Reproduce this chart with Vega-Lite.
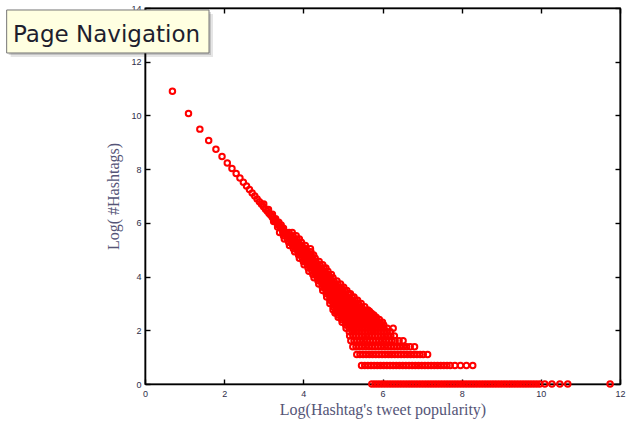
{
"$schema": "https://vega.github.io/schema/vega-lite/v6.json",
"width": 475, "height": 376,
"autosize": {"type": "none"},
"padding": {"left": 145, "top": 8, "right": 8, "bottom": 44},
"config": {
 "view": {"stroke": "#000", "strokeWidth": 1.3},
 "axis": {"domainColor": "#000", "domainWidth": 1.6, "tickColor": "#000", "tickWidth": 1.4, "grid": false,
  "labelFont": "Liberation Sans", "labelFontSize": 9, "labelColor": "#2e2e4a", "labelFlush": false, "labelOverlap": false,
  "titleFont": "Liberation Serif", "titleFontSize": 16, "titleFontWeight": "normal", "titleColor": "#555577"}
},
"datasets": {
"pts": [
{"x":0.693,"y":10.9},{"x":1.099,"y":10.07},{"x":1.386,"y":9.49},{"x":1.609,"y":9.07},{"x":1.792,"y":8.74},{"x":1.946,"y":8.47},{"x":2.079,"y":8.23},{"x":2.197,"y":8.02},{"x":2.303,"y":7.84},{"x":2.398,"y":7.67},{"x":2.485,"y":7.51},{"x":2.565,"y":7.37},{"x":2.639,"y":7.24},{"x":2.708,"y":7.11},{"x":2.773,"y":7.0},{"x":2.833,"y":6.89},{"x":2.89,"y":6.79},{"x":2.944,"y":6.69},{"x":2.996,"y":6.6},{"x":3.045,"y":6.51},{"x":3.091,"y":6.43},{"x":3.135,"y":6.35},{"x":3.178,"y":6.28},{"x":3.219,"y":6.2},{"x":3.258,"y":6.13},{"x":3.296,"y":6.07},{"x":3.332,"y":6.0},{"x":3.367,"y":5.94},{"x":3.401,"y":5.88},{"x":3.434,"y":5.8},{"x":3.466,"y":5.76},{"x":3.497,"y":5.7},{"x":3.526,"y":5.66},
{"x":3.0,"y":6.7},{"x":3.12,"y":6.5},{"x":3.22,"y":6.32},{"x":3.3,"y":6.15},{"x":3.38,"y":6.02},{"x":3.44,"y":5.92},{"x":3.35,"y":5.85},{"x":3.25,"y":6.05},{"x":3.5,"y":5.8},
{"x":3.40,"y":5.64},{"x":3.48,"y":5.64},{"x":3.56,"y":5.64},{"x":3.64,"y":5.64},{"x":3.72,"y":5.64},
{"x":3.50,"y":5.52},{"x":3.58,"y":5.52},{"x":3.66,"y":5.52},{"x":3.74,"y":5.52},{"x":3.82,"y":5.52},
{"x":3.52,"y":5.40},{"x":3.60,"y":5.40},{"x":3.68,"y":5.40},{"x":3.76,"y":5.40},{"x":3.84,"y":5.40},{"x":3.90,"y":5.40},
{"x":3.63,"y":5.28},{"x":3.71,"y":5.28},{"x":3.79,"y":5.28},{"x":3.87,"y":5.28},{"x":3.95,"y":5.28},
{"x":3.65,"y":5.16},{"x":3.73,"y":5.16},{"x":3.81,"y":5.16},{"x":3.89,"y":5.16},{"x":3.97,"y":5.16},{"x":4.05,"y":5.16},
{"x":3.75,"y":5.04},{"x":3.83,"y":5.04},{"x":3.91,"y":5.04},{"x":3.99,"y":5.04},{"x":4.07,"y":5.04},{"x":4.18,"y":5.04},
{"x":3.78,"y":4.92},{"x":3.86,"y":4.92},{"x":3.94,"y":4.92},{"x":4.02,"y":4.92},{"x":4.10,"y":4.92},{"x":4.19,"y":4.92},
{"x":3.88,"y":4.80},{"x":3.96,"y":4.80},{"x":4.04,"y":4.80},{"x":4.12,"y":4.80},{"x":4.20,"y":4.80},{"x":4.26,"y":4.80},
{"x":3.90,"y":4.68},{"x":3.98,"y":4.68},{"x":4.06,"y":4.68},{"x":4.14,"y":4.68},{"x":4.22,"y":4.68},{"x":4.30,"y":4.68},
{"x":4.00,"y":4.56},{"x":4.08,"y":4.56},{"x":4.16,"y":4.56},{"x":4.24,"y":4.56},{"x":4.32,"y":4.56},{"x":4.40,"y":4.56},
{"x":4.02,"y":4.44},{"x":4.10,"y":4.44},{"x":4.18,"y":4.44},{"x":4.26,"y":4.44},{"x":4.34,"y":4.44},{"x":4.42,"y":4.44},{"x":4.49,"y":4.44},
{"x":4.12,"y":4.32},{"x":4.20,"y":4.32},{"x":4.28,"y":4.32},{"x":4.36,"y":4.32},{"x":4.44,"y":4.32},{"x":4.52,"y":4.32},{"x":4.57,"y":4.32},
{"x":4.14,"y":4.20},{"x":4.22,"y":4.20},{"x":4.30,"y":4.20},{"x":4.38,"y":4.20},{"x":4.46,"y":4.20},{"x":4.54,"y":4.20},{"x":4.62,"y":4.20},
{"x":4.24,"y":4.08},{"x":4.32,"y":4.08},{"x":4.40,"y":4.08},{"x":4.48,"y":4.08},{"x":4.56,"y":4.08},{"x":4.64,"y":4.08},{"x":4.71,"y":4.08},
{"x":4.27,"y":3.96},{"x":4.35,"y":3.96},{"x":4.43,"y":3.96},{"x":4.51,"y":3.96},{"x":4.59,"y":3.96},{"x":4.67,"y":3.96},{"x":4.75,"y":3.96},
{"x":4.37,"y":3.84},{"x":4.45,"y":3.84},{"x":4.53,"y":3.84},{"x":4.61,"y":3.84},{"x":4.69,"y":3.84},{"x":4.77,"y":3.84},{"x":4.85,"y":3.84},
{"x":4.39,"y":3.72},{"x":4.47,"y":3.72},{"x":4.55,"y":3.72},{"x":4.63,"y":3.72},{"x":4.71,"y":3.72},{"x":4.79,"y":3.72},{"x":4.87,"y":3.72},{"x":4.94,"y":3.72},
{"x":4.48,"y":3.60},{"x":4.56,"y":3.60},{"x":4.64,"y":3.60},{"x":4.72,"y":3.60},{"x":4.80,"y":3.60},{"x":4.88,"y":3.60},{"x":4.96,"y":3.60},{"x":5.02,"y":3.60},
{"x":4.49,"y":3.48},{"x":4.57,"y":3.48},{"x":4.65,"y":3.48},{"x":4.73,"y":3.48},{"x":4.81,"y":3.48},{"x":4.89,"y":3.48},{"x":4.97,"y":3.48},{"x":5.05,"y":3.48},{"x":5.10,"y":3.48},
{"x":4.58,"y":3.36},{"x":4.66,"y":3.36},{"x":4.74,"y":3.36},{"x":4.82,"y":3.36},{"x":4.90,"y":3.36},{"x":4.98,"y":3.36},{"x":5.06,"y":3.36},{"x":5.14,"y":3.36},{"x":5.19,"y":3.36},
{"x":4.59,"y":3.24},{"x":4.67,"y":3.24},{"x":4.75,"y":3.24},{"x":4.83,"y":3.24},{"x":4.91,"y":3.24},{"x":4.99,"y":3.24},{"x":5.07,"y":3.24},{"x":5.15,"y":3.24},{"x":5.23,"y":3.24},{"x":5.28,"y":3.24},
{"x":4.67,"y":3.12},{"x":4.75,"y":3.12},{"x":4.83,"y":3.12},{"x":4.91,"y":3.12},{"x":4.99,"y":3.12},{"x":5.07,"y":3.12},{"x":5.15,"y":3.12},{"x":5.23,"y":3.12},{"x":5.31,"y":3.12},{"x":5.37,"y":3.12},
{"x":4.67,"y":3.00},{"x":4.75,"y":3.00},{"x":4.83,"y":3.00},{"x":4.91,"y":3.00},{"x":4.99,"y":3.00},{"x":5.07,"y":3.00},{"x":5.15,"y":3.00},{"x":5.23,"y":3.00},{"x":5.31,"y":3.00},{"x":5.39,"y":3.00},{"x":5.46,"y":3.00},
{"x":4.75,"y":2.88},{"x":4.83,"y":2.88},{"x":4.91,"y":2.88},{"x":4.99,"y":2.88},{"x":5.07,"y":2.88},{"x":5.15,"y":2.88},{"x":5.23,"y":2.88},{"x":5.31,"y":2.88},{"x":5.39,"y":2.88},{"x":5.47,"y":2.88},{"x":5.55,"y":2.88},
{"x":4.75,"y":2.76},{"x":4.83,"y":2.76},{"x":4.91,"y":2.76},{"x":4.99,"y":2.76},{"x":5.07,"y":2.76},{"x":5.15,"y":2.76},{"x":5.23,"y":2.76},{"x":5.31,"y":2.76},{"x":5.39,"y":2.76},{"x":5.47,"y":2.76},{"x":5.55,"y":2.76},{"x":5.63,"y":2.76},
{"x":4.81,"y":2.708},{"x":4.89,"y":2.708},{"x":4.97,"y":2.708},{"x":5.05,"y":2.708},{"x":5.13,"y":2.708},{"x":5.21,"y":2.708},{"x":5.29,"y":2.708},{"x":5.37,"y":2.708},{"x":5.45,"y":2.708},{"x":5.53,"y":2.708},{"x":5.61,"y":2.708},{"x":5.67,"y":2.708},
{"x":4.80,"y":2.639},{"x":4.88,"y":2.639},{"x":4.96,"y":2.639},{"x":5.04,"y":2.639},{"x":5.12,"y":2.639},{"x":5.20,"y":2.639},{"x":5.28,"y":2.639},{"x":5.36,"y":2.639},{"x":5.44,"y":2.639},{"x":5.52,"y":2.639},{"x":5.60,"y":2.639},{"x":5.68,"y":2.639},{"x":5.72,"y":2.639},
{"x":4.88,"y":2.565},{"x":4.96,"y":2.565},{"x":5.04,"y":2.565},{"x":5.12,"y":2.565},{"x":5.20,"y":2.565},{"x":5.28,"y":2.565},{"x":5.36,"y":2.565},{"x":5.44,"y":2.565},{"x":5.52,"y":2.565},{"x":5.60,"y":2.565},{"x":5.68,"y":2.565},{"x":5.78,"y":2.565},
{"x":4.88,"y":2.485},{"x":4.96,"y":2.485},{"x":5.04,"y":2.485},{"x":5.12,"y":2.485},{"x":5.20,"y":2.485},{"x":5.28,"y":2.485},{"x":5.36,"y":2.485},{"x":5.44,"y":2.485},{"x":5.52,"y":2.485},{"x":5.60,"y":2.485},{"x":5.68,"y":2.485},{"x":5.76,"y":2.485},{"x":5.84,"y":2.485},
{"x":4.97,"y":2.398},{"x":5.05,"y":2.398},{"x":5.13,"y":2.398},{"x":5.21,"y":2.398},{"x":5.29,"y":2.398},{"x":5.37,"y":2.398},{"x":5.45,"y":2.398},{"x":5.53,"y":2.398},{"x":5.61,"y":2.398},{"x":5.69,"y":2.398},{"x":5.77,"y":2.398},{"x":5.85,"y":2.398},{"x":5.92,"y":2.398},
{"x":4.98,"y":2.303},{"x":5.06,"y":2.303},{"x":5.14,"y":2.303},{"x":5.22,"y":2.303},{"x":5.30,"y":2.303},{"x":5.38,"y":2.303},{"x":5.46,"y":2.303},{"x":5.54,"y":2.303},{"x":5.62,"y":2.303},{"x":5.70,"y":2.303},{"x":5.78,"y":2.303},{"x":5.86,"y":2.303},{"x":5.94,"y":2.303},{"x":6.00,"y":2.303},
{"x":5.07,"y":2.197},{"x":5.15,"y":2.197},{"x":5.23,"y":2.197},{"x":5.31,"y":2.197},{"x":5.39,"y":2.197},{"x":5.47,"y":2.197},{"x":5.55,"y":2.197},{"x":5.63,"y":2.197},{"x":5.71,"y":2.197},{"x":5.79,"y":2.197},{"x":5.87,"y":2.197},{"x":5.95,"y":2.197},{"x":6.03,"y":2.197},
{"x":5.08,"y":2.079},{"x":5.16,"y":2.079},{"x":5.24,"y":2.079},{"x":5.32,"y":2.079},{"x":5.40,"y":2.079},{"x":5.48,"y":2.079},{"x":5.56,"y":2.079},{"x":5.64,"y":2.079},{"x":5.72,"y":2.079},{"x":5.80,"y":2.079},{"x":5.88,"y":2.079},{"x":5.96,"y":2.079},{"x":6.04,"y":2.079},{"x":6.12,"y":2.079},{"x":6.27,"y":2.079},
{"x":5.16,"y":1.946},{"x":5.24,"y":1.946},{"x":5.32,"y":1.946},{"x":5.40,"y":1.946},{"x":5.48,"y":1.946},{"x":5.56,"y":1.946},{"x":5.64,"y":1.946},{"x":5.72,"y":1.946},{"x":5.80,"y":1.946},{"x":5.88,"y":1.946},{"x":5.96,"y":1.946},{"x":6.04,"y":1.946},{"x":6.12,"y":1.946},{"x":6.20,"y":1.946},
{"x":5.17,"y":1.792},{"x":5.25,"y":1.792},{"x":5.33,"y":1.792},{"x":5.41,"y":1.792},{"x":5.49,"y":1.792},{"x":5.57,"y":1.792},{"x":5.65,"y":1.792},{"x":5.73,"y":1.792},{"x":5.81,"y":1.792},{"x":5.89,"y":1.792},{"x":5.97,"y":1.792},{"x":6.05,"y":1.792},{"x":6.13,"y":1.792},{"x":6.21,"y":1.792},{"x":6.30,"y":1.792},
{"x":5.20,"y":1.609},{"x":5.28,"y":1.609},{"x":5.36,"y":1.609},{"x":5.44,"y":1.609},{"x":5.52,"y":1.609},{"x":5.60,"y":1.609},{"x":5.68,"y":1.609},{"x":5.76,"y":1.609},{"x":5.84,"y":1.609},{"x":5.92,"y":1.609},{"x":6.00,"y":1.609},{"x":6.08,"y":1.609},{"x":6.16,"y":1.609},{"x":6.24,"y":1.609},{"x":6.32,"y":1.609},{"x":6.42,"y":1.609},{"x":6.52,"y":1.609},
{"x":5.25,"y":1.386},{"x":5.33,"y":1.386},{"x":5.41,"y":1.386},{"x":5.49,"y":1.386},{"x":5.57,"y":1.386},{"x":5.65,"y":1.386},{"x":5.73,"y":1.386},{"x":5.81,"y":1.386},{"x":5.89,"y":1.386},{"x":5.97,"y":1.386},{"x":6.05,"y":1.386},{"x":6.13,"y":1.386},{"x":6.21,"y":1.386},{"x":6.29,"y":1.386},{"x":6.37,"y":1.386},{"x":6.45,"y":1.386},{"x":6.53,"y":1.386},{"x":6.61,"y":1.386},{"x":6.70,"y":1.386},{"x":6.81,"y":1.386},
{"x":5.35,"y":1.099},{"x":5.43,"y":1.099},{"x":5.51,"y":1.099},{"x":5.59,"y":1.099},{"x":5.67,"y":1.099},{"x":5.75,"y":1.099},{"x":5.83,"y":1.099},{"x":5.91,"y":1.099},{"x":5.99,"y":1.099},{"x":6.07,"y":1.099},{"x":6.15,"y":1.099},{"x":6.23,"y":1.099},{"x":6.31,"y":1.099},{"x":6.39,"y":1.099},{"x":6.47,"y":1.099},{"x":6.55,"y":1.099},{"x":6.63,"y":1.099},{"x":6.71,"y":1.099},{"x":6.79,"y":1.099},{"x":6.87,"y":1.099},{"x":6.95,"y":1.099},{"x":7.03,"y":1.099},{"x":7.14,"y":1.099},
{"x":5.47,"y":0.693},{"x":5.55,"y":0.693},{"x":5.63,"y":0.693},{"x":5.71,"y":0.693},{"x":5.79,"y":0.693},{"x":5.87,"y":0.693},{"x":5.95,"y":0.693},{"x":6.03,"y":0.693},{"x":6.11,"y":0.693},{"x":6.19,"y":0.693},{"x":6.27,"y":0.693},{"x":6.35,"y":0.693},{"x":6.43,"y":0.693},{"x":6.51,"y":0.693},{"x":6.59,"y":0.693},{"x":6.67,"y":0.693},{"x":6.75,"y":0.693},{"x":6.83,"y":0.693},{"x":6.91,"y":0.693},{"x":6.99,"y":0.693},{"x":7.07,"y":0.693},{"x":7.15,"y":0.693},{"x":7.23,"y":0.693},{"x":7.31,"y":0.693},{"x":7.39,"y":0.693},{"x":7.47,"y":0.693},{"x":7.55,"y":0.693},{"x":7.63,"y":0.693},{"x":7.71,"y":0.693},{"x":7.83,"y":0.693},{"x":7.97,"y":0.693},{"x":8.12,"y":0.693},{"x":8.28,"y":0.693},
{"x":5.73,"y":0},{"x":5.81,"y":0},{"x":5.89,"y":0},{"x":5.97,"y":0},{"x":6.05,"y":0},{"x":6.13,"y":0},{"x":6.21,"y":0},{"x":6.29,"y":0},{"x":6.37,"y":0},{"x":6.45,"y":0},{"x":6.53,"y":0},{"x":6.61,"y":0},{"x":6.69,"y":0},{"x":6.77,"y":0},{"x":6.85,"y":0},{"x":6.93,"y":0},{"x":7.01,"y":0},{"x":7.09,"y":0},{"x":7.17,"y":0},{"x":7.25,"y":0},{"x":7.33,"y":0},{"x":7.41,"y":0},{"x":7.49,"y":0},{"x":7.57,"y":0},{"x":7.65,"y":0},{"x":7.73,"y":0},{"x":7.81,"y":0},{"x":7.89,"y":0},{"x":7.97,"y":0},{"x":8.05,"y":0},{"x":8.13,"y":0},{"x":8.21,"y":0},{"x":8.29,"y":0},{"x":8.37,"y":0},{"x":8.45,"y":0},{"x":8.53,"y":0},{"x":8.61,"y":0},{"x":8.69,"y":0},{"x":8.77,"y":0},{"x":8.85,"y":0},{"x":8.93,"y":0},{"x":9.01,"y":0},{"x":9.09,"y":0},{"x":9.17,"y":0},{"x":9.25,"y":0},{"x":9.33,"y":0},{"x":9.41,"y":0},{"x":9.49,"y":0},{"x":9.57,"y":0},{"x":9.65,"y":0},{"x":9.73,"y":0},{"x":9.81,"y":0},{"x":9.89,"y":0},{"x":9.97,"y":0},{"x":10.1,"y":0},{"x":10.28,"y":0},{"x":10.48,"y":0},{"x":10.68,"y":0},{"x":11.75,"y":0}
],
"note": [{"x0": -3.495, "x1": 1.617, "y0": 13.926, "y1": 12.325, "tx": -3.335, "ty": 12.734, "label": "Page Navigation"}]
},
"layer": [
 {"data": {"name": "pts"},
  "mark": {"type": "point", "shape": "circle", "filled": false, "stroke": "#ff0000", "strokeWidth": 2, "size": 30, "opacity": 1},
  "encoding": {
   "x": {"field": "x", "type": "quantitative", "scale": {"domain": [0, 12], "nice": false, "zero": false},
     "axis": {"orient": "bottom", "values": [0, 2, 4, 6, 8, 10, 12], "tickSize": -5, "labelPadding": 10, "title": "Log(Hashtag's tweet popularity)", "titlePadding": 3}},
   "y": {"field": "y", "type": "quantitative", "scale": {"domain": [0, 14], "nice": false, "zero": false},
     "axis": {"orient": "left", "values": [0, 2, 4, 6, 8, 10, 12, 14], "tickSize": -5, "labelPadding": 9, "title": "Log( #Hashtags)", "titlePadding": 9}}
  }},
 {"data": {"name": "pts"},
  "mark": {"type": "point", "opacity": 0},
  "encoding": {
   "x": {"field": "x", "type": "quantitative", "axis": {"orient": "top", "values": [0, 2, 4, 6, 8, 10, 12], "tickSize": -5, "labels": false, "title": null}},
   "y": {"field": "y", "type": "quantitative", "axis": {"orient": "right", "values": [0, 2, 4, 6, 8, 10, 12, 14], "tickSize": -5, "labels": false, "title": null}}
  }},
 {"data": {"name": "note"},
  "mark": {"type": "rect", "fill": "#000", "opacity": 0.1, "xOffset": 4, "x2Offset": 4, "yOffset": 4, "y2Offset": 4},
  "encoding": {"x": {"field": "x0", "type": "quantitative", "axis": null}, "x2": {"field": "x1"}, "y": {"field": "y0", "type": "quantitative", "axis": null}, "y2": {"field": "y1"}}},
 {"data": {"name": "note"},
  "mark": {"type": "rect", "fill": "#000", "opacity": 0.15, "xOffset": 2, "x2Offset": 2, "yOffset": 2, "y2Offset": 2},
  "encoding": {"x": {"field": "x0", "type": "quantitative", "axis": null}, "x2": {"field": "x1"}, "y": {"field": "y0", "type": "quantitative", "axis": null}, "y2": {"field": "y1"}}},
 {"data": {"name": "note"},
  "mark": {"type": "rect", "fill": "#ffffe1", "stroke": "#767676", "strokeWidth": 1},
  "encoding": {"x": {"field": "x0", "type": "quantitative", "axis": null}, "x2": {"field": "x1"}, "y": {"field": "y0", "type": "quantitative", "axis": null}, "y2": {"field": "y1"}}},
 {"data": {"name": "note"},
  "mark": {"type": "text", "font": "DejaVu Sans", "fontSize": 23, "color": "#1e1e2e", "align": "left", "baseline": "alphabetic"},
  "encoding": {"x": {"field": "tx", "type": "quantitative", "axis": null}, "y": {"field": "ty", "type": "quantitative", "axis": null}, "text": {"field": "label"}}}
],
"resolve": {"axis": {"x": "independent", "y": "independent"}}
}
